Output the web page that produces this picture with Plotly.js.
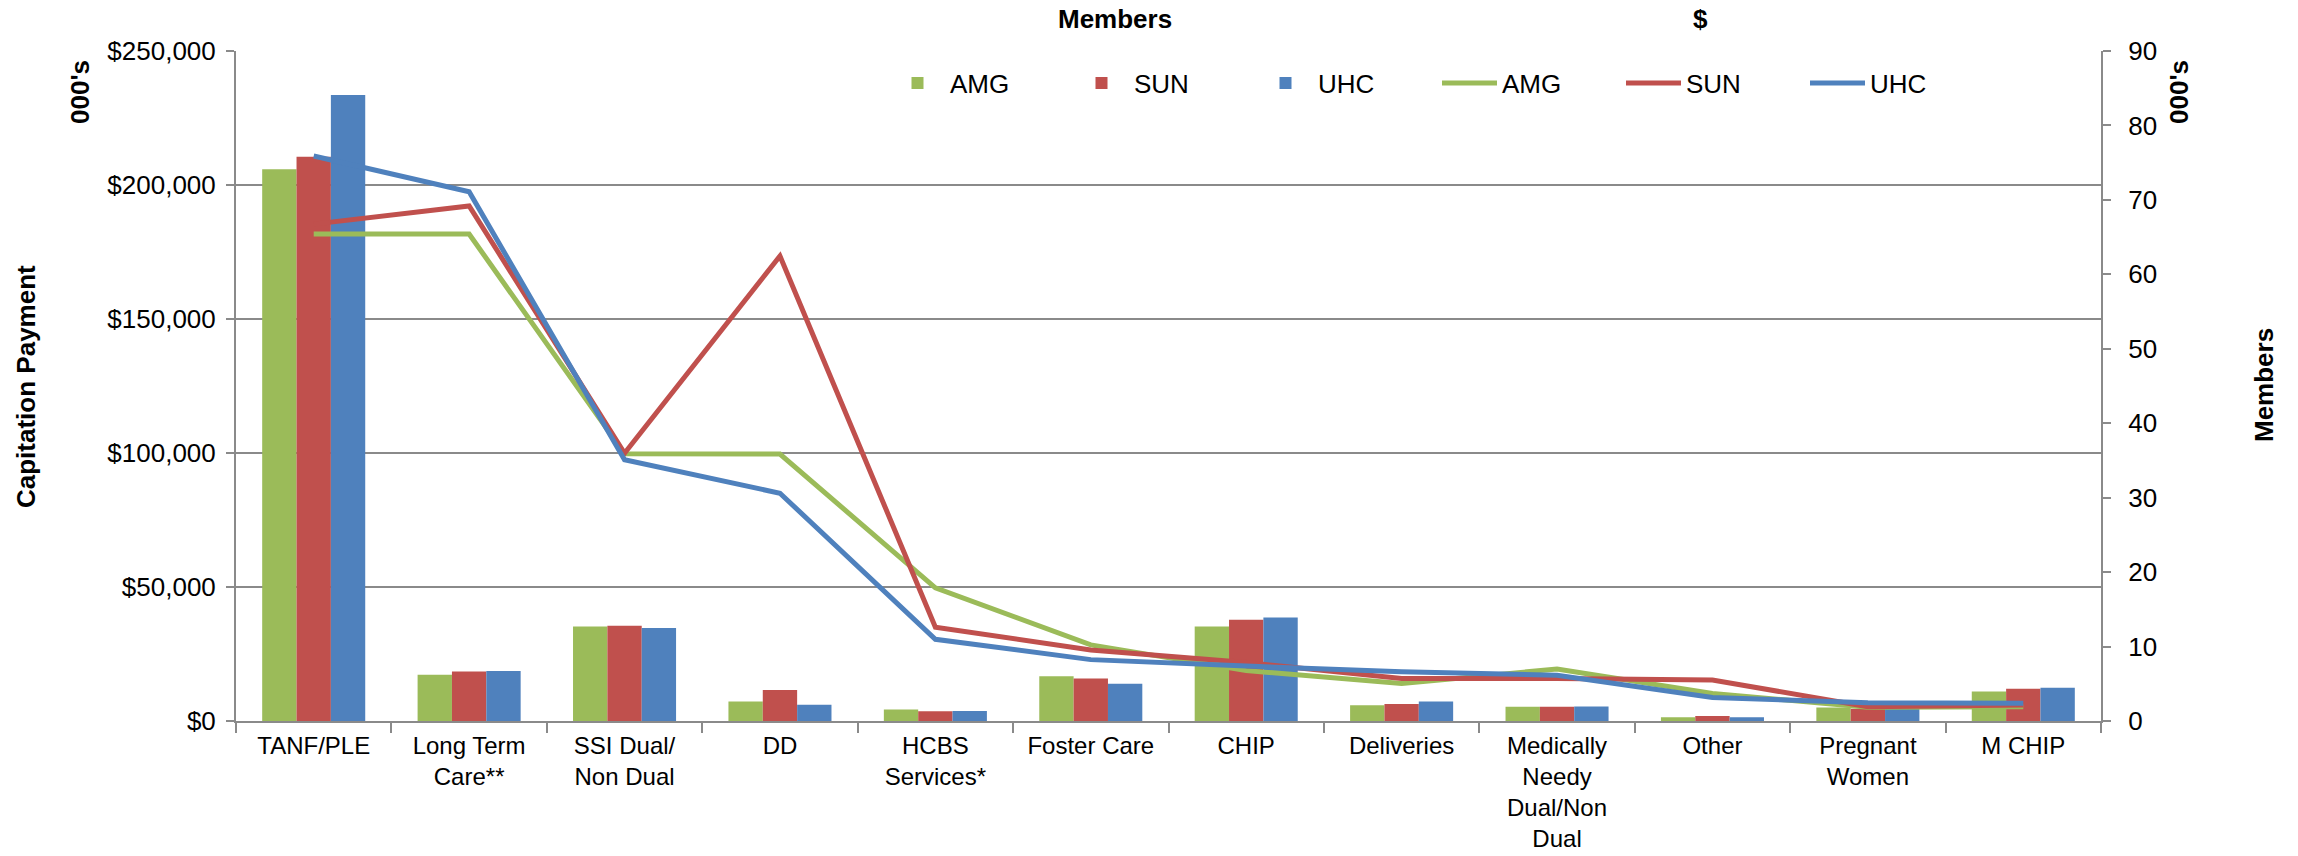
<!DOCTYPE html>
<html>
<head>
<meta charset="utf-8">
<script src="https://cdn.plot.ly/plotly-3.0.1.min.js"></script>
<style>html,body{margin:0;padding:0;background:#fff;}#chart{width:2298px;height:856px;}</style>
</head>
<body>
<div id="chart"></div>
<script>
// Categories
const categories = ['TANF/PLE', 'Long Term<br>Care**', 'SSI Dual/<br>Non Dual', 'DD', 'HCBS<br>Services*',
  'Foster Care', 'CHIP', 'Deliveries', 'Medically<br>Needy<br>Dual/Non<br>Dual', 'Other', 'Pregnant<br>Women', 'M CHIP'];

// Members (000's) - bars, right axis
const membersAMG = [74.1, 6.2, 12.7, 2.63, 1.56, 6.0, 12.7, 2.1, 1.92, 0.49, 1.83, 3.97];
const membersSUN = [75.8, 6.65, 12.8, 4.15, 1.3, 5.7, 13.6, 2.28, 1.92, 0.67, 1.65, 4.33];
const membersUHC = [84.1, 6.7, 12.5, 2.19, 1.34, 5.0, 13.9, 2.63, 1.96, 0.49, 1.7, 4.46];

// Capitation payment ($000's) - lines, left axis
const paymentAMG = [181700, 181700, 99700, 99600, 49700, 28400, 18800, 14000, 19400, 10300, 5100, 5300];
const paymentSUN = [185400, 192200, 99900, 173500, 35000, 26500, 21800, 15900, 15900, 15300, 5300, 6000];
const paymentUHC = [210800, 197500, 97500, 85000, 30500, 22900, 20500, 18400, 17100, 8800, 6800, 6600];

const seriesNames = ['AMG', 'SUN', 'UHC'];
const colors = ['#9BBB59', '#C0504D', '#4F81BD'];

const membersData = [membersAMG, membersSUN, membersUHC];
const paymentData = [paymentAMG, paymentSUN, paymentUHC];

const traces = [];
membersData.forEach((vals, i) => {
  traces.push({
    type: 'bar', name: seriesNames[i], x: categories, y: vals, yaxis: 'y',
    marker: {color: colors[i], line: {width: 0}}, hoverinfo: 'x+y+name'
  });
});
paymentData.forEach((vals, i) => {
  traces.push({
    type: 'scatter', mode: 'lines', name: seriesNames[i], x: categories, y: vals, yaxis: 'y2',
    line: {color: colors[i], width: 5}, hoverinfo: 'x+y+name'
  });
});

const FONT = 'Arial, "Liberation Sans", sans-serif';
const gridGray = '#8a8a8a';

// plot area in px: left 236, right 2101, top 51, bottom 721
const L = 236, R = 2101, T = 51, B = 721;
const px2x = p => (p - L) / (R - L);
const px2y = p => (B - p) / (B - T);

const layout = {
  width: 2298, height: 856,
  margin: {l: L, r: 2298 - R, t: T, b: 856 - B, pad: 0},
  paper_bgcolor: '#ffffff', plot_bgcolor: '#ffffff',
  font: {family: FONT, size: 26, color: '#000000'},
  barmode: 'group', bargap: 0.337, bargroupgap: 0,
  showlegend: true,
  legend: {
    orientation: 'h', x: px2x(885), y: px2y(83), xanchor: 'left', yanchor: 'middle',
    font: {family: FONT, size: 26, color: '#000'}, itemwidth: 55, entrywidth: 114,
    bgcolor: 'rgba(0,0,0,0)', borderwidth: 0, traceorder: 'normal'
  },
  xaxis: {
    type: 'category', tickson: 'boundaries', ticks: 'outside', ticklen: 10, tickwidth: 2,
    tickcolor: gridGray, showline: true, linecolor: gridGray, linewidth: 2, showgrid: false,
    zeroline: false, tickfont: {family: FONT, size: 24, color: '#000'}, tickangle: 0,
    ticklabelstandoff: 2
  },
  yaxis: {
    side: 'right', range: [0, 90], dtick: 10, tick0: 0, showgrid: false, zeroline: false,
    ticks: 'outside', ticklen: 8, tickwidth: 2, tickcolor: gridGray,
    showline: true, linecolor: gridGray, linewidth: 2,
    tickfont: {family: FONT, size: 26, color: '#000'}, ticklabelstandoff: 12
  },
  yaxis2: {
    overlaying: 'y', side: 'left', range: [0, 250000], dtick: 50000, tick0: 0,
    tickprefix: '$', tickformat: ',d', showgrid: true, gridcolor: gridGray, gridwidth: 2,
    zeroline: false, ticks: 'outside', ticklen: 8, tickwidth: 2, tickcolor: gridGray,
    showline: true, linecolor: gridGray, linewidth: 2,
    tickfont: {family: FONT, size: 26, color: '#000'}, ticklabelstandoff: 5
  },
  annotations: [
    {text: '<b>Members</b>', xref: 'paper', yref: 'paper', x: px2x(1115), y: px2y(19),
     showarrow: false, xanchor: 'center', yanchor: 'middle', font: {family: FONT, size: 26}},
    {text: '<b>$</b>', xref: 'paper', yref: 'paper', x: px2x(1700), y: px2y(19),
     showarrow: false, xanchor: 'center', yanchor: 'middle', font: {family: FONT, size: 26}},
    {text: "<b>000's</b>", xref: 'paper', yref: 'paper', x: px2x(80), y: px2y(92), textangle: -90,
     showarrow: false, xanchor: 'center', yanchor: 'middle', font: {family: FONT, size: 26}},
    {text: "<b>000's</b>", xref: 'paper', yref: 'paper', x: px2x(2179), y: px2y(92), textangle: -90,
     showarrow: false, xanchor: 'center', yanchor: 'middle', font: {family: FONT, size: 26}},
    {text: '<b>Capitation Payment</b>', xref: 'paper', yref: 'paper', x: px2x(26), y: px2y(387), textangle: -90,
     showarrow: false, xanchor: 'center', yanchor: 'middle', font: {family: FONT, size: 26}},
    {text: '<b>Members</b>', xref: 'paper', yref: 'paper', x: px2x(2264), y: px2y(385), textangle: -90,
     showarrow: false, xanchor: 'center', yanchor: 'middle', font: {family: FONT, size: 26}}
  ]
};

Plotly.newPlot('chart', traces, layout, {displayModeBar: false, staticPlot: true});
</script>
</body>
</html>
